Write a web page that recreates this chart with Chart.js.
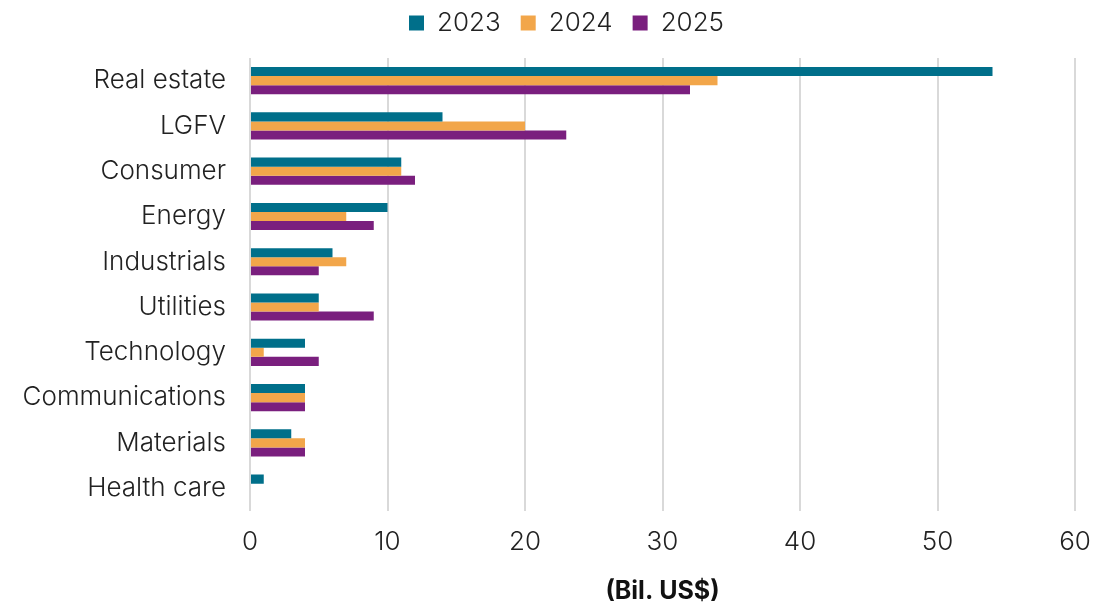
<!DOCTYPE html>
<html>
<head>
<meta charset="utf-8">
<script src="https://cdn.jsdelivr.net/npm/chart.js@4.4.1/dist/chart.umd.min.js"></script>
<style>
  html, body { margin: 0; padding: 0; background: #fff; }
  #wrap { width: 1117px; height: 604px; }
</style>
</head>
<body>
<div id="wrap"><canvas id="myChart" width="1117" height="604"></canvas></div>
<script>
// categories and values (Bil. US$)
var sectors = ["Real estate", "LGFV", "Consumer", "Energy", "Industrials",
               "Utilities", "Technology", "Communications", "Materials", "Health care"];
var years = ["2023", "2024", "2025"];
var v2023 = [54, 14, 11, 10, 6, 5, 4, 4, 3, 1];
var v2024 = [34, 20, 11, 7, 7, 5, 1, 4, 4, 0];
var v2025 = [32, 23, 12, 9, 5, 9, 5, 4, 4, 0];
var xTicks = [0, 10, 20, 30, 40, 50, 60];

var colors = ["#006f8a", "#f2a64a", "#7a1f7e"];
var fontFam = "Inter, 'Noto Sans', sans-serif";

// extra room between legend and plot, and nudge the legend a bit right
var legendTweak = {
    id: 'legendTweak',
    beforeInit: function(chart) {
        var lg = chart.legend;
        if (!lg) return;
        var fit = lg.fit;
        lg.fit = function() {
            fit.call(lg);
            lg.height += 12;
        };
    },
    afterLayout: function(chart) {
        if (chart.legend) chart.legend.left += 58;
    }
};

var config = {
    type: 'bar',
    data: {
        labels: sectors,
        datasets: [v2023, v2024, v2025].map(function(vals, i) {
            return {
                label: years[i],
                data: vals,
                backgroundColor: colors[i],
                borderWidth: 0,
                barPercentage: 1.0,
                categoryPercentage: 0.6
            };
        })
    },
    plugins: [legendTweak],
    options: {
        indexAxis: 'y',
        responsive: false,
        animation: false,
        layout: { padding: { left: 0, right: 42, top: -10, bottom: -2 } },
        plugins: {
            legend: {
                position: 'top',
                labels: {
                    boxWidth: 15,
                    boxHeight: 15,
                    padding: 20,
                    color: '#222',
                    font: { family: fontFam, size: 26, weight: 300 }
                }
            },
            tooltip: { enabled: false }
        },
        scales: {
            x: {
                min: 0,
                max: 60,
                afterBuildTicks: function(scale) {
                    scale.ticks = xTicks.map(function(v) { return { value: v }; });
                },
                grid: { color: '#d9d9d9', lineWidth: 2, drawTicks: false },
                border: { display: false },
                ticks: {
                    padding: 16,
                    color: '#222',
                    font: { family: fontFam, size: 26, weight: 300 }
                },
                title: {
                    display: true,
                    text: '(Bil. US$)',
                    color: '#111',
                    padding: { top: 2, bottom: 0 },
                    font: { family: fontFam, size: 25, weight: 'bold' }
                }
            },
            y: {
                grid: { display: false, drawTicks: false },
                border: { display: false },
                afterFit: function(scale) { scale.width = 250; },
                ticks: {
                    padding: 24,
                    color: '#222',
                    font: { family: fontFam, size: 26, weight: 300 }
                }
            }
        }
    }
};

window.myBar = new Chart(document.getElementById('myChart'), config);
</script>
</body>
</html>
